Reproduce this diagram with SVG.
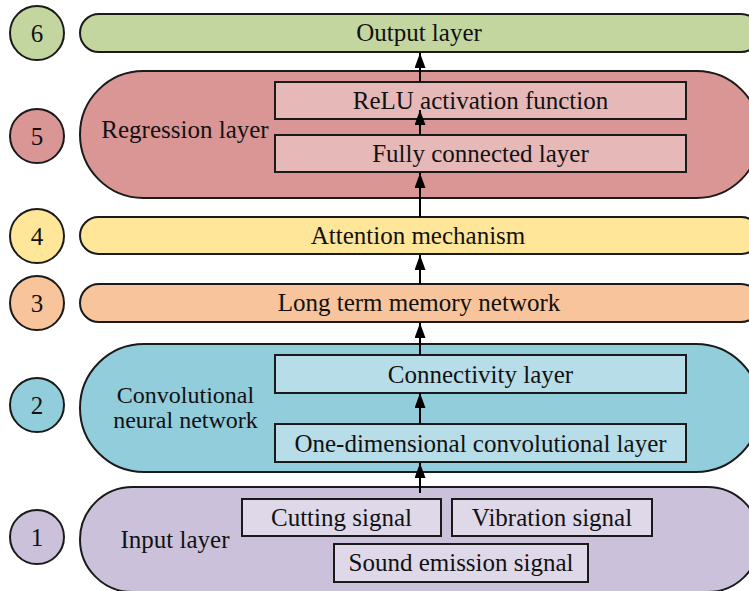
<svg xmlns="http://www.w3.org/2000/svg" width="749" height="591" viewBox="0 0 749 591">
  <style>
    text { font-family: "Liberation Serif", "Times New Roman", serif; font-size: 25px; fill: #111; text-anchor: middle; }
    .band { stroke: #1a1a1a; stroke-width: 2; }
    .box { stroke: #1a1a1a; stroke-width: 2; }
    .num { stroke: #1a1a1a; stroke-width: 2; }
    .g { fill: #c4d6a0; }
    .r { fill: #d99694; }
    .r2 { fill: #e6b9b8; }
    .y { fill: #ffe699; }
    .o { fill: #f8c49c; }
    .b { fill: #92cddc; }
    .b2 { fill: #b7dee8; }
    .p { fill: #ccc1da; }
    .p2 { fill: #dfd8e8; }
    .two-line { font-size: 24px; }
    .conn line { stroke: #000; stroke-width: 2; marker-end: url(#arrow); }
  </style>
  <defs>
    <marker id="arrow" viewBox="0 0 15 11" refX="15" refY="5.5" markerWidth="15" markerHeight="11" markerUnits="userSpaceOnUse" orient="auto">
      <path d="M0,0 L15,5.5 L0,11 z" fill="#000"/>
    </marker>
  </defs>

  <!-- level numbers -->
  <g id="num6"><circle class="num g" cx="37" cy="33" r="27"/><text x="37" y="42">6</text></g>
  <g id="num5"><circle class="num r" cx="37" cy="136" r="27"/><text x="37" y="145">5</text></g>
  <g id="num4"><circle class="num y" cx="37" cy="236" r="27"/><text x="37" y="245">4</text></g>
  <g id="num3"><circle class="num o" cx="37" cy="303" r="27"/><text x="37" y="312">3</text></g>
  <g id="num2"><circle class="num b" cx="37" cy="405" r="27"/><text x="37" y="414">2</text></g>
  <g id="num1"><circle class="num p" cx="37" cy="537" r="27"/><text x="37" y="546">1</text></g>

  <!-- layer 6 -->
  <g id="output-layer">
    <rect class="band g" x="80" y="14" width="680" height="38" rx="19"/>
    <text x="419" y="41">Output layer</text>
  </g>

  <!-- layer 5 -->
  <g id="regression-layer">
    <rect class="band r" x="80" y="71" width="680" height="127" rx="63.5"/>
    <text x="185" y="138">Regression layer</text>
  </g>
  <g id="relu">
    <rect class="box r2" x="275" y="82" width="411" height="37"/>
    <text x="480.5" y="109">ReLU activation function</text>
  </g>
  <g id="fully-connected">
    <rect class="box r2" x="275" y="135" width="411" height="37"/>
    <text x="480.5" y="162">Fully connected layer</text>
  </g>

  <!-- layer 4 -->
  <g id="attention">
    <rect class="band y" x="80" y="217" width="680" height="37" rx="18.5"/>
    <text x="418" y="244">Attention mechanism</text>
  </g>

  <!-- layer 3 -->
  <g id="lstm">
    <rect class="band o" x="80" y="284" width="680" height="38" rx="19"/>
    <text x="419" y="311">Long term memory network</text>
  </g>

  <!-- layer 2 -->
  <g id="cnn">
    <rect class="band b" x="80" y="344" width="680" height="128" rx="64"/>
    <text class="two-line" x="185.5" y="403">Convolutional</text>
    <text class="two-line" x="185.5" y="428">neural network</text>
  </g>
  <g id="connectivity">
    <rect class="box b2" x="275" y="355" width="411" height="38"/>
    <text x="480.5" y="383">Connectivity layer</text>
  </g>
  <g id="conv1d">
    <rect class="box b2" x="275" y="424" width="411" height="38"/>
    <text x="480.5" y="452">One-dimensional convolutional layer</text>
  </g>

  <!-- layer 1 -->
  <g id="input-layer">
    <rect class="band p" x="80" y="487" width="680" height="105" rx="52.5"/>
    <text x="175" y="548">Input layer</text>
  </g>
  <g id="cutting">
    <rect class="box p2" x="242" y="499" width="199" height="37"/>
    <text x="341.5" y="526">Cutting signal</text>
  </g>
  <g id="vibration">
    <rect class="box p2" x="452" y="499" width="200" height="37"/>
    <text x="552" y="526">Vibration signal</text>
  </g>
  <g id="sound">
    <rect class="box p2" x="334" y="544" width="254" height="38"/>
    <text x="461" y="571">Sound emission signal</text>
  </g>

  <!-- connectors -->
  <g class="conn" id="connectors">
    <line x1="420" y1="493" x2="420" y2="463"/>
    <line x1="420" y1="424" x2="420" y2="393"/>
    <line x1="420" y1="355" x2="420" y2="323"/>
    <line x1="420" y1="284" x2="420" y2="255"/>
    <line x1="420" y1="217" x2="420" y2="173"/>
    <line x1="420" y1="135" x2="420" y2="110"/>
    <line x1="420" y1="82" x2="420" y2="53"/>
  </g>
</svg>
